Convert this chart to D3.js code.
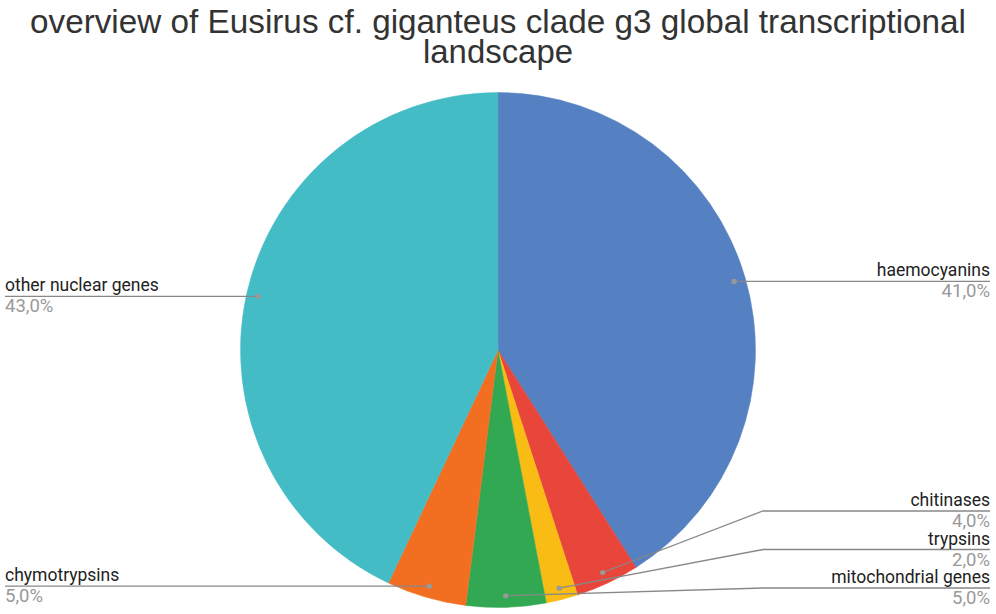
<!DOCTYPE html>
<html lang="en">
<head>
  <meta charset="UTF-8" />
  <title>Eusirus transcriptional landscape</title>
  <style>
    body { margin: 0; background: #fff; }
    .title { font-family: "Liberation Sans", Arial, sans-serif; fill: #333; }
    .lbl-name { font-family: Roboto, "Noto Sans", sans-serif; font-size: 17.5px; fill: #222; }
    .lbl-pct { font-family: Roboto, "Noto Sans", sans-serif; font-size: 18.5px; fill: #999; }
    .leader { fill: none; stroke: #888; stroke-width: 1.3; }
  </style>
</head>
<body>
  <svg width="996" height="614"></svg>
  <script src="https://d3js.org/d3.v7.min.js"></script>
  <script>
    // data
    const categories = ["haemocyanins", "chitinases", "trypsins", "mitochondrial genes", "chymotrypsins", "other nuclear genes"];
    const values = [41, 4, 2, 5, 5, 43];
    const colors = ["#5580c1", "#e8463a", "#f9bc15", "#33a853", "#f26f22", "#44bcc6"];
    const titleLines = ["overview of Eusirus cf. giganteus clade g3 global transcriptional", "landscape"];

    const width = 996, height = 614;
    const cx = 498, cy = 350, radius = 257.5;

    const svg = d3.select("svg");

    // title (glyphs in the reference look condensed, so squeeze to fit)
    const title = svg.append("g");
    title.append("text").attr("class", "title")
      .attr("x", cx).attr("y", 33).attr("text-anchor", "middle")
      .attr("font-size", 34)
      .attr("textLength", 936).attr("lengthAdjust", "spacingAndGlyphs")
      .text(titleLines[0]);
    title.append("text").attr("class", "title")
      .attr("x", cx).attr("y", 63).attr("text-anchor", "middle")
      .attr("font-size", 34)
      .attr("textLength", 150).attr("lengthAdjust", "spacingAndGlyphs")
      .text(titleLines[1]);

    const data = categories.map((c, i) => ({ name: c, value: values[i], color: colors[i] }));
    const total = d3.sum(values);

    const pie = d3.pie().sort(null).value(d => d.value);
    const arcs = pie(data);
    const arc = d3.arc().innerRadius(0).outerRadius(radius);
    const dotArc = d3.arc().innerRadius(radius * 0.955).outerRadius(radius * 0.955);

    const g = svg.append("g").attr("transform", `translate(${cx},${cy})`);

    g.selectAll("path.slice")
      .data(arcs)
      .enter()
      .append("path")
      .attr("class", "slice")
      .attr("d", arc)
      .attr("fill", d => d.data.color)
      .attr("stroke", d => d.data.color)
      .attr("stroke-width", 0.5);

    // label positions: dot inside slice, then elbow to the page edge
    const labels = arcs.map(d => {
      const [x, y] = dotArc.centroid(d);
      const mid = (d.startAngle + d.endAngle) / 2;
      return { d, dx: x + cx, dy: y + cy, right: mid < Math.PI, ly: y + cy };
    });

    // stack overlapping labels on each side, bottom-up
    const spacing = 38.5, bottomLimit = 588;
    ["right", "left"].forEach(side => {
      const list = labels.filter(l => (side === "right") === l.right).sort((a, b) => b.ly - a.ly);
      let prev = null;
      list.forEach(l => {
        if (l.ly > bottomLimit) l.ly = bottomLimit;
        if (prev && prev.ly - l.ly < spacing) l.ly = prev.ly - spacing;
        prev = l;
      });
    });

    const lblG = svg.append("g");
    labels.forEach(l => {
      const edgeX = l.right ? 990 : 5;
      const elbowX = l.right ? Math.max(763, l.dx) : Math.min(233, l.dx);
      lblG.append("path").attr("class", "leader")
        .attr("d", d3.line()([[l.dx, l.dy], [elbowX, l.ly], [edgeX, l.ly]]));
      lblG.append("circle").attr("cx", l.dx).attr("cy", l.dy).attr("r", 2.6).attr("fill", "#999");
      const anchor = l.right ? "end" : "start";
      lblG.append("text").attr("class", "lbl-name")
        .attr("x", edgeX).attr("y", l.ly - 5).attr("text-anchor", anchor)
        .text(l.d.data.name);
      lblG.append("text").attr("class", "lbl-pct")
        .attr("x", edgeX).attr("y", l.ly + 16).attr("text-anchor", anchor)
        .text((l.d.data.value / total * 100).toFixed(1).replace(".", ",") + "%");
    });
  </script>
</body>
</html>
